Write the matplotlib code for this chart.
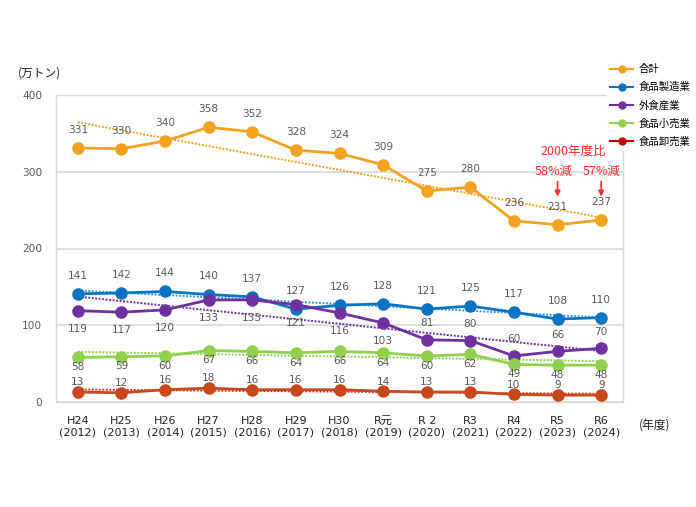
import matplotlib
matplotlib.use("Agg")
import matplotlib.pyplot as plt
import numpy as np
from matplotlib.lines import Line2D

plt.rcParams['font.family'] = ['Noto Sans CJK JP', 'DejaVu Sans']

years = ["H24\n(2012)", "H25\n(2013)", "H26\n(2014)", "H27\n(2015)", "H28\n(2016)",
         "H29\n(2017)", "H30\n(2018)", "R元\n(2019)", "R 2\n(2020)", "R3\n(2021)",
         "R4\n(2022)", "R5\n(2023)", "R6\n(2024)"]
total = [331, 330, 340, 358, 352, 328, 324, 309, 275, 280, 236, 231, 237]
manufacturing = [141, 142, 144, 140, 137, 121, 126, 128, 121, 125, 117, 108, 110]
manufacturing_labels = [141, 142, 144, 140, 137, 127, 126, 128, 121, 125, 117, 108, 110]
restaurant = [119, 117, 120, 133, 133, 127, 116, 103, 81, 80, 60, 66, 70]
restaurant_labels = [119, 117, 120, 133, 133, 121, 116, 103, 81, 80, 60, 66, 70]
retail = [58, 59, 60, 67, 66, 64, 66, 64, 60, 62, 49, 48, 48]
wholesale = [13, 12, 16, 18, 16, 16, 16, 14, 13, 13, 10, 9, 9]
series_names = ["合計", "食品製造業", "外食産業", "食品小売業", "食品卸売業"]

W, H = 696, 507
fig = plt.figure(figsize=(W / 100, H / 100), dpi=100)
ax = fig.add_axes([56 / W, 1 - 402 / H, (623 - 56) / W, (402 - 95) / H])

x = np.arange(len(years))
lab_col = '#595959'

def fs_trend(vals, color):
    c = np.polyfit(x, vals, 1)
    ax.plot(x, np.polyval(c, x), linestyle=(0, (1, 0.8)), color=color, lw=1.4, zorder=2)

specs = [
    (total, '#F4A11E', '#F4A11E'),
    (manufacturing, '#0A73C4', '#2E9AD6'),
    (restaurant, '#7030A0', '#7030A0'),
    (retail, '#8FD14F', '#8FD14F'),
    (wholesale, '#C8471B', '#E0302A'),
]
legend_colors = ['#F4A11E', '#0A73C4', '#7030A0', '#8FD14F', '#C00000']

for vals, col, tcol in specs:
    fs_trend(vals, tcol)
    ax.plot(x, vals, color=col, lw=2.0, marker='o', ms=8, zorder=3)

def label(vals, labs, offsets):
    for i, (v, l) in enumerate(zip(vals, labs)):
        ax.annotate(str(l), (i, v), xytext=(0, offsets[i]), textcoords='offset points',
                    ha='center', va='center', fontsize=7.6, color=lab_col,
                    family=['DejaVu Sans'], zorder=4)

label(total, total, [13] * 13)
label(manufacturing, manufacturing_labels, [13] * 13)
label(restaurant, restaurant_labels, [-13] * 8 + [12] * 5)
label(retail, retail, [-7] * 13)
label(wholesale, wholesale, [7] * 13)

ax.set_xlim(-0.5, 12.5)
ax.set_ylim(0, 400)
ax.set_yticks([0, 100, 200, 300, 400])
ax.set_xticks(x)
ax.set_xticklabels(years, fontsize=8, color='#222222', linespacing=1.15,
                   family=['DejaVu Sans', 'Noto Sans CJK JP'])
ax.set_yticklabels(['0', '100', '200', '300', '400'], family=['DejaVu Sans'])
ax.tick_params(axis='y', labelsize=7.6, labelcolor=lab_col, length=0, pad=10)
ax.tick_params(axis='x', length=0, pad=10)
ax.grid(axis='y', color='#D9D9D9', lw=1.2)
ax.set_axisbelow(True)
for s in ax.spines.values():
    s.set_color('#D9D9D9')
    s.set_linewidth(1.0)

fig.text(18 / W, 1 - 73 / H, "(万トン)", fontsize=8.5, color='#222222', va='center', ha='left')
fig.text(655 / W, 1 - 425 / H, "(年度)", fontsize=8.5, color='#222222', va='center', ha='center')

red = '#FF2A2A'
ax.text(11.35, 327, "2000年度比", color=red, fontsize=9, ha='center', va='center')
ax.text(10.9, 300, "58%減", color=red, fontsize=9, ha='center', va='center')
ax.text(12.0, 300, "57%減", color=red, fontsize=9, ha='center', va='center')
for xi in (11, 12):
    ax.annotate("", xy=(xi, 264), xytext=(xi, 291),
                arrowprops=dict(arrowstyle='-|>', color=red, lw=1.2, mutation_scale=8))

handles = [Line2D([0], [0], color=c, lw=1.5, marker='o', ms=5) for c in legend_colors]
leg = fig.legend(handles, series_names, loc='upper left', bbox_to_anchor=(602 / W, 1 - 56 / H),
                 frameon=True, facecolor='white', edgecolor='white', framealpha=1,
                 fontsize=7.5, handlelength=2.2, labelspacing=0.75, borderpad=0.3,
                 handletextpad=0.5)

fig.savefig("out.png", dpi=100)
